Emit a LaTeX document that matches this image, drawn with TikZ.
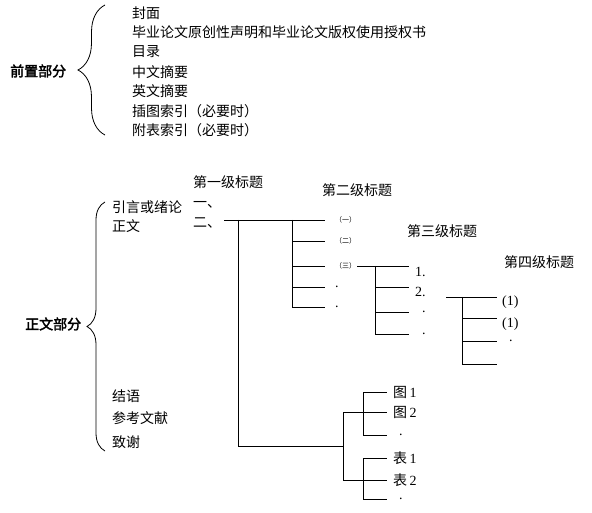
\documentclass[tikz,border=0pt]{standalone}
\usepackage{fontspec}
\setmainfont{Liberation Serif}
\newfontfamily\cjk[AutoFakeBold=2.5]{Noto Sans CJK SC}
\usetikzlibrary{decorations.pathreplacing}

\begin{document}
\begin{tikzpicture}[x=1pt, y=-1pt,
    txt/.style={anchor=west, inner sep=0pt, font=\cjk\fontsize{14}{16}\selectfont},
    head/.style={txt, font=\cjk\bfseries\fontsize{14}{16}\selectfont},
    small/.style={anchor=west, inner sep=0pt, font=\cjk\fontsize{7}{8}\selectfont},
    num/.style={anchor=north west, inner sep=0pt, font=\fontsize{14}{16}\selectfont},
    dot/.style={anchor=west, inner sep=0pt, font=\fontsize{14}{16}\selectfont},
    wire/.style={line width=0.9pt},
    curly/.style={line width=0.8pt, decorate, decoration={brace, amplitude=#1}}]
    \useasboundingbox (0,0) rectangle (592,513);
    % Front matter:
    \node[head] (front) at (10,71) {前置部分};
    \node[txt] (cover) at (132,13) {封面};
    \node[txt] (decl) at (132,32) {毕业论文原创性声明和毕业论文版权使用授权书};
    \node[txt] (toc) at (132,52) {目录};
    \node[txt] (abscn) at (132,72) {中文摘要};
    \node[txt] (absen) at (132,91) {英文摘要};
    \node[txt] (figidx) at (132,111) {插图索引（必要时）};
    \node[txt] (tabidx) at (132,130) {附表索引（必要时）};
    \coordinate (fronttop) at (105,5);
    \coordinate (frontbot) at (105,135);
    \draw[curly=27] (frontbot) -- (fronttop);
    % Main matter:
    \node[head] (main) at (25,324) {正文部分};
    \node[txt] (intro) at (112,207) {引言或绪论};
    \node[txt] (body) at (112,226) {正文};
    \node[txt] (concl) at (112,396) {结语};
    \node[txt] (refs) at (112,418) {参考文献};
    \node[txt] (thanks) at (112,442) {致谢};
    \coordinate (maintop) at (105,202);
    \coordinate (mainbot) at (105,451);
    \draw[curly=18] (mainbot) -- (maintop);
    % Heading levels:
    \node[txt] (lvA) at (193,182) {第一级标题};
    \node[txt] (lvB) at (322,190) {第二级标题};
    \node[txt] (lvC) at (407,231) {第三级标题};
    \node[txt] (lvD) at (504,262) {第四级标题};
    \node[txt] (ha) at (193,205) {一、};
    \node[txt] (hb) at (193,223) {二、};
    % second level
    \node[small] (sa) at (335,220) {（一）};
    \node[small] (sb) at (335,241) {（二）};
    \node[small] (sc) at (335,266) {（三）};
    \node[dot] (sd) at (335,287) {.};
    \node[dot] (se) at (335,307) {.};
    \coordinate (start) at (224,220);
    \coordinate (trunk) at (238,220);
    \coordinate (forkB) at (292,220);
    \draw[wire] (start) -- ([xshift=-10pt]sa.west);
    \draw[wire] (forkB) -- (forkB |- se);
    \foreach \s in {sb,sc,sd,se}
        \draw[wire] (forkB |- \s) -- ([xshift=-10pt]\s.west);
    % third level
    \node[num] (na) at (415,267) {1.};
    \node[num] (nb) at (415,287) {2.};
    \node[dot] (nc) at (422,312) {.};
    \node[dot] (nd) at (422,334) {.};
    \coordinate (forkC) at (375,266);
    \coordinate (endC) at (409,266);
    \draw[wire] ([xshift=1pt]sc.east) -- (endC);
    \draw[wire] (forkC) -- (forkC |- nd);
    \foreach \s in {nc,nd}
        \draw[wire] (forkC |- \s) -- (endC |- \s);
    \draw[wire] (forkC |- nb.north) -- (endC |- nb.north);
    % fourth level
    \node[num] (pa) at (502,296) {(1)};
    \node[num] (pb) at (502,318) {(1)};
    \node[dot] (pc) at (509,341) {.};
    \coordinate (startD) at (446,297);
    \coordinate (forkD) at (462,297);
    \coordinate (endD) at (497,297);
    \coordinate (lastD) at (497,364);
    \draw[wire] (startD) -- (endD);
    \draw[wire] (forkD) -- (forkD |- lastD);
    \draw[wire] (forkD |- pb.north) -- (endD |- pb.north);
    \draw[wire] (forkD |- pc) -- (endD |- pc);
    \draw[wire] (forkD |- lastD) -- (lastD);
    % figures and tables
    \node[txt] (fa) at (393,392) {图\,\fontspec{Liberation Serif}1};
    \node[txt] (fb) at (393,412) {图\,\fontspec{Liberation Serif}2};
    \node[dot] (fc) at (399,435) {.};
    \node[txt] (ta) at (393,458) {表\,\fontspec{Liberation Serif}1};
    \node[txt] (tb) at (393,480) {表\,\fontspec{Liberation Serif}2};
    \node[dot] (tc) at (399,499) {.};
    \coordinate (bend) at (238,446);
    \coordinate (forkE) at (343,446);
    \coordinate (forkF) at (363,446);
    \coordinate (endF) at (387,446);
    \draw[wire] (trunk) -- (bend) -- (forkE);
    \draw[wire] (forkE |- fb) -- (forkE |- tb);
    \draw[wire] (forkF |- fa) -- (forkF |- fc);
    \draw[wire] (forkF |- ta) -- (forkF |- tc);
    \foreach \s in {fb,tb}
        \draw[wire] (forkE |- \s) -- (endF |- \s);
    \foreach \s in {fa,fc,ta,tc}
        \draw[wire] (forkF |- \s) -- (endF |- \s);
\end{tikzpicture}
\end{document}
